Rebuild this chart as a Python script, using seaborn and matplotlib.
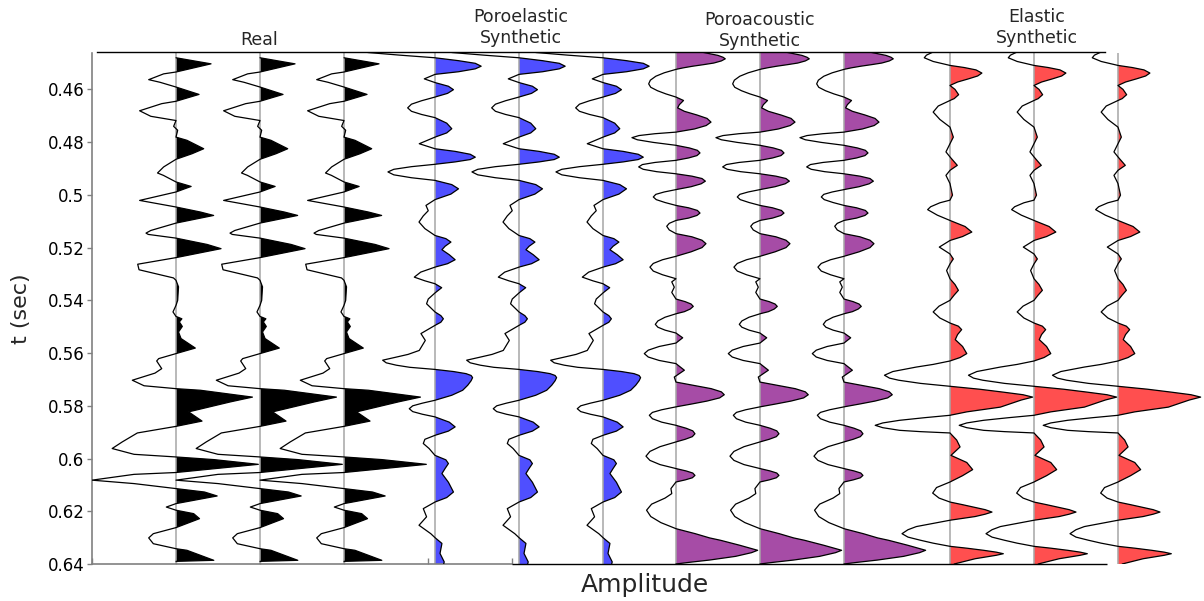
import numpy as np
import matplotlib
matplotlib.use("Agg")
import matplotlib.pyplot as plt
import seaborn as sns

# ---- traces: two-way time (s) and normalised amplitude --------------------
real_t = [0.4480, 0.4503, 0.4534, 0.4541, 0.4563, 0.4573, 0.4591, 0.4619, 0.4645, 0.4654,
          0.4681, 0.4702, 0.4718, 0.4740, 0.4755, 0.4781, 0.4793, 0.4825, 0.4844, 0.4865,
          0.4894, 0.4917, 0.4926, 0.4951, 0.4968, 0.4989, 0.5021, 0.5046, 0.5065, 0.5078,
          0.5107, 0.5135, 0.5145, 0.5150, 0.5164, 0.5188, 0.5204, 0.5238, 0.5263, 0.5284,
          0.5315, 0.5324, 0.5349, 0.5400, 0.5419, 0.5444, 0.5461, 0.5470, 0.5482, 0.5499,
          0.5520, 0.5545, 0.5581, 0.5602, 0.5621, 0.5630, 0.5659, 0.5676, 0.5703, 0.5724,
          0.5735, 0.5741, 0.5767, 0.5785, 0.5823, 0.5858, 0.5878, 0.5903, 0.5937, 0.5962,
          0.5984, 0.5994, 0.6004, 0.6022, 0.6053, 0.6060, 0.6082, 0.6095, 0.6114, 0.6127,
          0.6142, 0.6171, 0.6184, 0.6196, 0.6209, 0.6228, 0.6262, 0.6285, 0.6301, 0.6323,
          0.6342, 0.6348, 0.6386, 0.6390]
real_amp = [0.000, 0.417, 0.000, -0.147, -0.325, -0.190, 0.000, 0.274, 0.000, -0.170,
            -0.433, -0.300, 0.000, -0.028, 0.020, 0.000, 0.130, 0.330, 0.190, 0.000,
            -0.147, -0.220, -0.150, 0.000, 0.180, 0.000, -0.433, 0.000, 0.290, 0.448,
            0.000, -0.300, -0.357, -0.330, 0.000, 0.370, 0.536, 0.000, -0.456, -0.440,
            -0.030, 0.000, 0.030, 0.020, 0.000, -0.036, 0.000, 0.070, 0.040, 0.075,
            0.030, 0.060, 0.230, 0.000, -0.206, -0.230, -0.170, -0.250, -0.520, -0.380,
            0.000, 0.290, 0.910, 0.650, 0.150, 0.310, 0.000, -0.460, -0.640, -0.760,
            -0.500, 0.000, 0.450, 0.980, 0.000, -0.500, -1.000, -0.500, 0.000, 0.340,
            0.490, 0.000, -0.115, 0.000, 0.210, 0.280, 0.000, -0.270, -0.325, -0.270,
            0.000, 0.130, 0.450, 0.000]

poroelastic_t = [0.4460, 0.4470, 0.4480, 0.4491, 0.4501, 0.4512, 0.4522, 0.4533, 0.4543, 0.4560,
                 0.4574, 0.4588, 0.4601, 0.4615, 0.4629, 0.4643, 0.4656, 0.4670, 0.4683, 0.4695,
                 0.4707, 0.4728, 0.4749, 0.4765, 0.4781, 0.4806, 0.4825, 0.4835, 0.4846, 0.4857,
                 0.4866, 0.4875, 0.4884, 0.4893, 0.4903, 0.4913, 0.4924, 0.4935, 0.4945, 0.4961,
                 0.4977, 0.4997, 0.5018, 0.5040, 0.5060, 0.5080, 0.5103, 0.5128, 0.5154, 0.5166,
                 0.5179, 0.5195, 0.5208, 0.5227, 0.5246, 0.5261, 0.5274, 0.5293, 0.5312, 0.5326,
                 0.5337, 0.5352, 0.5372, 0.5395, 0.5413, 0.5444, 0.5458, 0.5470, 0.5483, 0.5495,
                 0.5526, 0.5552, 0.5590, 0.5605, 0.5617, 0.5627, 0.5637, 0.5646, 0.5654, 0.5662,
                 0.5670, 0.5678, 0.5685, 0.5693, 0.5705, 0.5722, 0.5741, 0.5760, 0.5779, 0.5790,
                 0.5800, 0.5811, 0.5822, 0.5832, 0.5842, 0.5862, 0.5880, 0.5896, 0.5912, 0.5927,
                 0.5943, 0.5962, 0.5988, 0.6005, 0.6019, 0.6038, 0.6057, 0.6090, 0.6127, 0.6148,
                 0.6165, 0.6190, 0.6221, 0.6253, 0.6285, 0.6300, 0.6322, 0.6360, 0.6392, 0.6405]
poroelastic_amp = [-0.800, -0.420, 0.000, 0.280, 0.480, 0.550, 0.480, 0.280, 0.000, -0.127,
                   0.000, 0.160, 0.220, 0.150, 0.000, -0.160, -0.280, -0.325, -0.280, -0.160,
                   0.000, 0.140, 0.200, 0.140, 0.000, -0.187, 0.000, 0.240, 0.420, 0.480,
                   0.420, 0.240, 0.000, -0.280, -0.490, -0.560, -0.490, -0.280, 0.000, 0.200,
                   0.280, 0.190, 0.000, -0.107, -0.080, -0.140, -0.190, -0.120, 0.000, 0.130,
                   0.190, 0.120, 0.083, 0.170, 0.240, 0.150, 0.000, -0.170, -0.246, -0.120,
                   0.000, 0.080, 0.000, -0.080, -0.100, 0.000, 0.070, 0.100, 0.070, 0.000,
                   -0.167, -0.115, -0.187, -0.320, -0.484, -0.623, -0.580, -0.460, -0.300, 0.000,
                   0.220, 0.370, 0.430, 0.448, 0.430, 0.390, 0.330, 0.200, 0.000, -0.150,
                   -0.265, -0.306, -0.265, -0.150, 0.000, 0.170, 0.240, 0.160, 0.000, -0.120,
                   -0.139, -0.070, 0.000, 0.130, 0.160, 0.120, 0.083, 0.160, 0.220, 0.140,
                   0.000, -0.139, -0.100, -0.190, -0.050, 0.000, 0.083, 0.060, 0.110, 0.100]

poroacoustic_t = [0.4458, 0.4471, 0.4478, 0.4484, 0.4492, 0.4500, 0.4506, 0.4512, 0.4518, 0.4524,
                  0.4537, 0.4550, 0.4565, 0.4579, 0.4592, 0.4605, 0.4617, 0.4629, 0.4642, 0.4658,
                  0.4670, 0.4683, 0.4697, 0.4710, 0.4724, 0.4737, 0.4750, 0.4762, 0.4768, 0.4775,
                  0.4783, 0.4791, 0.4801, 0.4812, 0.4822, 0.4831, 0.4841, 0.4851, 0.4860, 0.4869,
                  0.4877, 0.4885, 0.4894, 0.4903, 0.4912, 0.4920, 0.4929, 0.4938, 0.4948, 0.4958,
                  0.4969, 0.4980, 0.4989, 0.4998, 0.5008, 0.5018, 0.5029, 0.5040, 0.5049, 0.5059,
                  0.5069, 0.5078, 0.5088, 0.5097, 0.5108, 0.5119, 0.5133, 0.5147, 0.5159, 0.5172,
                  0.5185, 0.5200, 0.5216, 0.5233, 0.5246, 0.5260, 0.5274, 0.5289, 0.5303, 0.5318,
                  0.5330, 0.5350, 0.5370, 0.5395, 0.5405, 0.5414, 0.5423, 0.5433, 0.5443, 0.5451,
                  0.5464, 0.5478, 0.5491, 0.5502, 0.5513, 0.5524, 0.5542, 0.5562, 0.5575, 0.5589,
                  0.5602, 0.5615, 0.5628, 0.5640, 0.5665, 0.5691, 0.5710, 0.5722, 0.5735, 0.5747,
                  0.5758, 0.5770, 0.5782, 0.5793, 0.5804, 0.5815, 0.5825, 0.5836, 0.5849, 0.5862,
                  0.5874, 0.5885, 0.5895, 0.5906, 0.5917, 0.5927, 0.5937, 0.5955, 0.5973, 0.5991,
                  0.6007, 0.6023, 0.6038, 0.6047, 0.6055, 0.6064, 0.6073, 0.6081, 0.6089, 0.6114,
                  0.6133, 0.6150, 0.6173, 0.6196, 0.6220, 0.6243, 0.6266, 0.6285, 0.6301, 0.6310,
                  0.6329, 0.6348, 0.6357, 0.6371, 0.6385, 0.6394, 0.6400]
poroacoustic_amp = [0.300, 0.500, 0.560, 0.587, 0.540, 0.450, 0.330, 0.200, 0.090, 0.000,
                    -0.140, -0.240, -0.305, -0.325, -0.300, -0.220, -0.120, 0.000, 0.090, 0.040,
                    0.020, 0.100, 0.250, 0.370, 0.417, 0.360, 0.220, 0.000, -0.250, -0.440,
                    -0.524, -0.460, -0.270, 0.000, 0.160, 0.255, 0.286, 0.250, 0.150, 0.000,
                    -0.250, -0.400, -0.444, -0.390, -0.230, 0.000, 0.190, 0.310, 0.350, 0.300,
                    0.180, 0.000, -0.140, -0.240, -0.270, -0.235, -0.130, 0.000, 0.150, 0.255,
                    0.286, 0.250, 0.150, 0.000, -0.080, -0.110, -0.080, 0.000, 0.190, 0.310,
                    0.357, 0.310, 0.180, 0.000, -0.160, -0.270, -0.310, -0.270, -0.160, 0.000,
                    -0.050, -0.020, -0.050, 0.000, 0.110, 0.180, 0.206, 0.170, 0.100, 0.000,
                    -0.130, -0.215, -0.246, -0.215, -0.130, 0.000, 0.080, 0.000, -0.200, -0.330,
                    -0.377, -0.330, -0.200, 0.000, 0.100, -0.020, 0.000, 0.200, 0.420, 0.540,
                    0.575, 0.520, 0.370, 0.190, 0.000, -0.170, -0.280, -0.317, -0.280, -0.170,
                    0.000, 0.120, 0.200, 0.226, 0.195, 0.110, 0.000, -0.190, -0.310, -0.357,
                    -0.310, -0.190, 0.000, 0.120, 0.200, 0.226, 0.195, 0.110, 0.000, -0.060,
                    -0.050, -0.130, -0.290, -0.350, -0.300, -0.180, 0.000, 0.230, 0.400, 0.530,
                    0.760, 0.972, 0.900, 0.710, 0.400, 0.150, 0.000]

elastic_t = [0.4458, 0.4470, 0.4480, 0.4494, 0.4509, 0.4517, 0.4526, 0.4538, 0.4549, 0.4560,
             0.4572, 0.4585, 0.4600, 0.4620, 0.4635, 0.4642, 0.4663, 0.4686, 0.4714, 0.4743,
             0.4781, 0.4806, 0.4837, 0.4856, 0.4888, 0.4907, 0.4926, 0.4957, 0.5001, 0.5020,
             0.5030, 0.5045, 0.5056, 0.5077, 0.5097, 0.5120, 0.5141, 0.5158, 0.5173, 0.5198,
             0.5224, 0.5243, 0.5262, 0.5287, 0.5318, 0.5340, 0.5362, 0.5380, 0.5400, 0.5422,
             0.5444, 0.5467, 0.5486, 0.5498, 0.5511, 0.5530, 0.5549, 0.5575, 0.5602, 0.5617,
             0.5630, 0.5643, 0.5653, 0.5670, 0.5684, 0.5695, 0.5703, 0.5715, 0.5726, 0.5737,
             0.5748, 0.5758, 0.5767, 0.5778, 0.5792, 0.5805, 0.5823, 0.5836, 0.5845, 0.5855,
             0.5865, 0.5874, 0.5883, 0.5893, 0.5898, 0.5903, 0.5930, 0.5956, 0.5988, 0.6015,
             0.6042, 0.6065, 0.6089, 0.6110, 0.6131, 0.6150, 0.6165, 0.6175, 0.6194, 0.6203,
             0.6211, 0.6220, 0.6234, 0.6246, 0.6258, 0.6270, 0.6285, 0.6298, 0.6310, 0.6321,
             0.6333, 0.6340, 0.6348, 0.6355, 0.6361, 0.6367, 0.6380, 0.6400]
elastic_amp = [-0.200, -0.280, -0.306, -0.200, 0.000, 0.170, 0.310, 0.380, 0.330, 0.220,
               0.090, 0.000, 0.060, 0.103, 0.050, 0.000, -0.140, -0.200, -0.120, 0.000,
               0.040, 0.000, -0.048, 0.000, 0.087, 0.000, -0.048, 0.000, 0.030, 0.000,
               -0.120, -0.230, -0.266, -0.150, 0.000, 0.180, 0.260, 0.150, 0.000, -0.127,
               0.000, 0.040, 0.000, -0.040, 0.000, 0.060, 0.100, 0.050, 0.000, -0.130,
               -0.200, -0.120, 0.000, 0.100, 0.139, 0.090, 0.063, 0.150, 0.200, 0.120,
               0.000, -0.200, -0.400, -0.680, -0.780, -0.720, -0.610, -0.350, 0.000, 0.350,
               0.630, 0.870, 0.984, 0.850, 0.720, 0.600, 0.200, 0.000, -0.300, -0.600,
               -0.800, -0.890, -0.800, -0.600, -0.350, 0.000, 0.080, 0.120, 0.012, 0.200,
               0.270, 0.150, 0.000, -0.160, -0.206, -0.130, 0.000, 0.150, 0.420, 0.500,
               0.420, 0.300, 0.000, -0.200, -0.400, -0.500, -0.571, -0.500, -0.350, -0.200,
               0.000, 0.200, 0.400, 0.550, 0.635, 0.550, 0.300, 0.050]

group_titles = ["Real", "Poroelastic\nSynthetic", "Poroacoustic\nSynthetic", "Elastic\nSynthetic"]
ytick_values = [0.46, 0.48, 0.50, 0.52, 0.54, 0.56, 0.58, 0.60, 0.62, 0.64]
ytick_labels = ["0.46", "0.48", "0.5", "0.52", "0.54", "0.56", "0.58", "0.6", "0.62", "0.64"]

# ---- layout / style ---------------------------------------------------------
W, H = 1204, 601
fill_colors = ["#000000", "#4f4fff", "#a64ca6", "#ff4f4f"]
first_trace_x = [1.0, 4.083, 6.952, 10.214]   # x of the first trace in each panel
traces_per_group = 3
title_px = [(259, 49), (521, 47), (760, 50), (1037, 47)]  # (x, bottom) in pixels

sns.set_theme(style="white")
plt.rcParams["font.family"] = ["DejaVu Sans"]

fig = plt.figure(figsize=(W / 100, H / 100), dpi=100)
ax = fig.add_axes([92 / W, 1 - 564 / H, (W - 92) / W, (564 - 52.5) / H])

series = [(real_t, real_amp), (poroelastic_t, poroelastic_amp),
          (poroacoustic_t, poroacoustic_amp), (elastic_t, elastic_amp)]

for g, (t, amp) in enumerate(series):
    t = np.asarray(t)
    amp = np.asarray(amp)
    for k in range(traces_per_group):
        x0 = first_trace_x[g] + k
        ax.fill_betweenx(t, x0, x0 + amp, where=amp > 0, interpolate=True,
                         color=fill_colors[g], lw=0, zorder=2)
        ax.axvline(x0, color="#a6a6a6", lw=1.1, zorder=2.5)
        sns.lineplot(x=x0 + amp, y=t, orient="y", sort=False, estimator=None,
                     color="black", lw=0.9, ax=ax, zorder=3,
                     solid_joinstyle="round")

ax.set_xlim(0, (W - 92) / 84)
ax.set_ylim(0.64, 0.446)

ax.set_yticks(ytick_values)
ax.set_yticklabels(ytick_labels)
ax.set_xticks([0, 1, 2, 3, 4, 5])
ax.set_xticklabels([])
ax.tick_params(axis="y", direction="out", length=3.5, width=1.0, color="#808080",
               labelcolor="black", labelsize=12, pad=2, left=True)
ax.tick_params(axis="x", direction="in", length=4, width=1.0, color="#808080",
               bottom=True)

ax.spines["right"].set_visible(False)
ax.spines["left"].set_color("#808080")
ax.spines["left"].set_linewidth(1.2)
ax.spines["bottom"].set_color("#808080")
ax.spines["bottom"].set_linewidth(1.2)
ax.spines["bottom"].set_bounds(0, 5)
ax.spines["top"].set_color("black")
ax.spines["top"].set_linewidth(1.0)
ax.spines["top"].set_bounds(0.06, 12.06)
ax.hlines(0.64, 5, 12.08, color="black", lw=1.0, clip_on=False, zorder=4)

ax.set_ylabel("t (sec)", fontsize=16)
ax.yaxis.set_label_coords((31 - 92) / (W - 92), 0.5)
ax.set_xlabel("Amplitude", fontsize=18)
ax.xaxis.set_label_coords((645 - 92) / (W - 92), -0.017)

for title, (px, py) in zip(group_titles, title_px):
    fig.text(px / W, 1 - py / H, title, ha="center", va="bottom", fontsize=12.5)

fig.savefig("out.png", dpi=100)
